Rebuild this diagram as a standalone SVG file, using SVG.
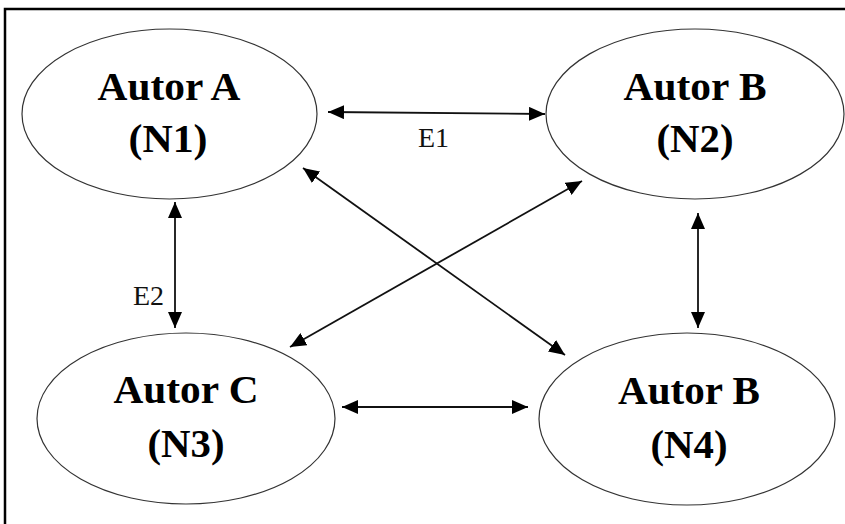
<svg xmlns="http://www.w3.org/2000/svg" width="845" height="524" viewBox="0 0 845 524">
<style>
.node ellipse{fill:#fff;stroke:#333;stroke-width:1.2}
.lbl{font-family:"Liberation Serif","Times New Roman",serif;font-weight:bold;font-size:39px;fill:#000;text-anchor:middle}
.elbl{font-family:"Liberation Serif","Times New Roman",serif;font-size:28px;fill:#111}
.conn line{stroke:#111;stroke-width:1.8;marker-start:url(#ah);marker-end:url(#ah)}
.frame{stroke:#000;stroke-width:2.5;fill:none}
</style>
<defs>
<marker id="ah" markerUnits="userSpaceOnUse" markerWidth="16" markerHeight="14" refX="16" refY="7" orient="auto-start-reverse">
<path d="M0,0 L16,7 L0,14 Z" fill="#000"/>
</marker>
</defs>
<rect width="845" height="524" fill="#fff"/>
<path class="frame" d="M5,524 L5,9 L845,9"/>
<g id="n1" class="node">
<ellipse cx="169.5" cy="114" rx="147.5" ry="85"/>
<text class="lbl" x="169" y="100" textLength="143" lengthAdjust="spacingAndGlyphs">Autor A</text>
<text class="lbl" x="168" y="152" textLength="79" lengthAdjust="spacingAndGlyphs">(N1)</text>
</g>
<g id="n2" class="node">
<ellipse cx="695" cy="114" rx="149" ry="85"/>
<text class="lbl" x="695" y="100" textLength="143" lengthAdjust="spacingAndGlyphs">Autor B</text>
<text class="lbl" x="695" y="152" textLength="77" lengthAdjust="spacingAndGlyphs">(N2)</text>
</g>
<g id="n3" class="node">
<ellipse cx="186" cy="418.5" rx="149" ry="85.5"/>
<text class="lbl" x="186" y="403" textLength="145" lengthAdjust="spacingAndGlyphs">Autor C</text>
<text class="lbl" x="186" y="457" textLength="77" lengthAdjust="spacingAndGlyphs">(N3)</text>
</g>
<g id="n4" class="node">
<ellipse cx="687" cy="419" rx="148" ry="86"/>
<text class="lbl" x="689" y="404" textLength="142" lengthAdjust="spacingAndGlyphs">Autor B</text>
<text class="lbl" x="689" y="458" textLength="77" lengthAdjust="spacingAndGlyphs">(N4)</text>
</g>
<g id="connectors" class="conn">
<line x1="328" y1="112" x2="545" y2="114"/>
<line x1="175" y1="202" x2="175" y2="328"/>
<line x1="698" y1="213" x2="698" y2="328"/>
<line x1="342" y1="407" x2="528" y2="407"/>
<line x1="303" y1="168" x2="565" y2="355"/>
<line x1="290" y1="347" x2="582" y2="181"/>
</g>
<text class="elbl" x="418" y="147">E1</text>
<text class="elbl" x="133" y="305">E2</text>
</svg>
